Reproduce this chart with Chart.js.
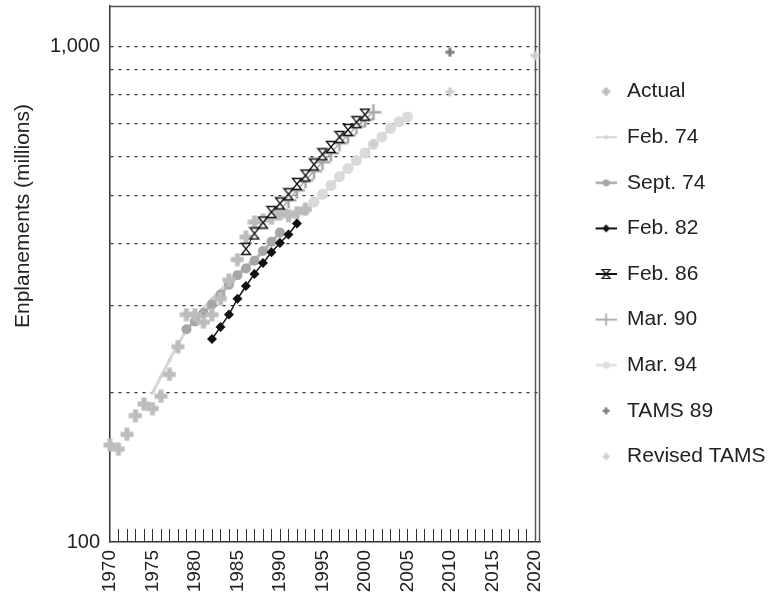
<!DOCTYPE html>
<html>
<head>
<meta charset="utf-8">
<style>
  html, body { margin: 0; padding: 0; background: #fff; }
  #chartDiv { width: 775px; height: 601px; }
</style>
</head>
<body>
<div id="chartDiv"><canvas id="myChart"></canvas></div>
<script src="https://cdn.jsdelivr.net/npm/chart.js@4.4.1/dist/chart.umd.min.js"></script>
<script>
// Enplanements (millions)
const actualYears = [1970, 1971, 1972, 1973, 1974, 1975, 1976, 1977, 1978, 1979, 1980, 1981,
  1982, 1983, 1984, 1985, 1986, 1987, 1988, 1989, 1990, 1991, 1992, 1993];
const actualValues = [157, 154, 165, 180, 190, 186, 197, 218, 248, 288, 288, 278,
  288, 310, 338, 372, 413, 443, 447, 451, 460, 456, 463, 470];

const feb74Years = [1975, 1976, 1977, 1978, 1979, 1980, 1981, 1982, 1983, 1984, 1985, 1986, 1987, 1988, 1989, 1990];
const feb74Values = [200, 216, 233, 251, 268, 283, 297, 310, 323, 336, 349, 361, 373, 385, 397, 410];

const sept74Years = [1979, 1980, 1981, 1982, 1983, 1984, 1985, 1986, 1987, 1988, 1989, 1990];
const sept74Values = [269, 279, 290, 302, 316, 331, 346, 357, 370, 387, 404, 422];

const feb82Years = [1982, 1983, 1984, 1985, 1986, 1987, 1988, 1989, 1990, 1991, 1992];
const feb82Values = [257, 272, 288, 310, 329, 348, 366, 385, 402, 418, 440];

const feb86Years = [1986, 1987, 1988, 1989, 1990, 1991, 1992, 1993, 1994, 1995, 1996, 1997, 1998, 1999, 2000];
const feb86Values = [391, 420, 442, 464, 483, 504, 529, 550, 579, 607, 628, 658, 680, 705, 730];

const mar90Years = [1990, 1991, 1992, 1993, 1994, 1995, 1996, 1997, 1998, 1999, 2000, 2001];
const mar90Values = [468, 490, 513, 538, 561, 585, 610, 639, 663, 691, 714, 738];

const mar94Years = [1993, 1994, 1995, 1996, 1997, 1998, 1999, 2000, 2001, 2002, 2003, 2004, 2005];
const mar94Values = [469, 486, 504, 525, 547, 568, 590, 611, 636, 658, 685, 706, 722];

const tams89Years = [2010];
const tams89Values = [976];

const revTamsYears = [2001, 2010, 2020];
const revTamsValues = [638, 812, 961];

// axis ticks
const xTickValues = [1970, 1975, 1980, 1985, 1990, 1995, 2000, 2005, 2010, 2015, 2020];
const yTickValues = [100, 200, 300, 400, 500, 600, 700, 800, 900, 1000];
const yTickText = ['100', '', '', '', '', '', '', '', '', '1,000'];

const FONT = "'Liberation Sans', Arial, Helvetica, sans-serif";
Chart.defaults.font.family = FONT;
Chart.defaults.color = '#222';

function pts(xs, ys) {
  return xs.map((x, i) => ({ x: x, y: ys[i] }));
}

function makeIcon(w, h, draw) {
  const c = document.createElement('canvas');
  c.width = w;
  c.height = h;
  draw(c.getContext('2d'));
  return c;
}

function hourglass(ctx, cx, cy, hw, hh, lw) {
  ctx.beginPath();
  ctx.moveTo(cx - hw, cy - hh);
  ctx.lineTo(cx + hw, cy - hh);
  ctx.lineTo(cx - hw, cy + hh);
  ctx.lineTo(cx + hw, cy + hh);
  ctx.closePath();
  ctx.fillStyle = '#fff';
  ctx.fill();
  ctx.lineWidth = lw;
  ctx.strokeStyle = '#111';
  ctx.stroke();
}

function plus(ctx, cx, cy, arm, lw, color) {
  ctx.beginPath();
  ctx.moveTo(cx - arm, cy); ctx.lineTo(cx + arm, cy);
  ctx.moveTo(cx, cy - arm); ctx.lineTo(cx, cy + arm);
  ctx.lineWidth = lw;
  ctx.strokeStyle = color;
  ctx.stroke();
}

function dot(ctx, cx, cy, r, color) {
  ctx.beginPath();
  ctx.arc(cx, cy, r, 0, Math.PI * 2);
  ctx.fillStyle = color;
  ctx.fill();
}

function seg(ctx, lw, color) {
  ctx.beginPath();
  ctx.moveTo(31, 8); ctx.lineTo(52, 8);
  ctx.lineWidth = lw;
  ctx.strokeStyle = color;
  ctx.stroke();
}

// point markers drawn as small images (keeps the layout overflow small)
const hourglassPoint = makeIcon(12, 14, ctx => hourglass(ctx, 6, 7, 4.5, 5.5, 1.3));
const actualPoint = makeIcon(14, 14, ctx => plus(ctx, 7, 7, 6.5, 5, '#bcbcbc'));
const mar90Point = makeIcon(18, 18, ctx => plus(ctx, 9, 9, 8, 2.5, '#a8a8a8'));
const tams89Point = makeIcon(10, 10, ctx => plus(ctx, 5, 5, 4.5, 3, '#7d7d7d'));
const revTamsPoint = makeIcon(10, 10, ctx => plus(ctx, 5, 5, 4.5, 3, '#cdcdcd'));

// legend icons (marker sits in the right part of a wide image)
const legendIcons = [
  makeIcon(52, 16, ctx => plus(ctx, 41.5, 8, 4, 3.5, '#bcbcbc')),
  makeIcon(52, 16, ctx => { seg(ctx, 2, '#d6d6d6'); dot(ctx, 41.5, 8, 2, '#cfcfcf'); }),
  makeIcon(52, 16, ctx => { seg(ctx, 2.5, '#ababab'); dot(ctx, 41.5, 8, 3.5, '#a6a6a6'); }),
  makeIcon(52, 16, ctx => {
    seg(ctx, 2, '#111');
    ctx.beginPath();
    ctx.moveTo(41.5, 4); ctx.lineTo(45.5, 8); ctx.lineTo(41.5, 12); ctx.lineTo(37.5, 8);
    ctx.closePath(); ctx.fillStyle = '#111'; ctx.fill();
  }),
  makeIcon(52, 16, ctx => { seg(ctx, 2, '#111'); hourglass(ctx, 41.5, 8, 4, 4.5, 1.2); }),
  makeIcon(52, 16, ctx => { seg(ctx, 2, '#b0b0b0'); plus(ctx, 41.5, 8, 6, 2, '#b0b0b0'); }),
  makeIcon(52, 16, ctx => { seg(ctx, 2.5, '#e0e0e0'); dot(ctx, 41.5, 8, 3.5, '#dedede'); }),
  makeIcon(52, 16, ctx => plus(ctx, 41.5, 8, 3.5, 2.5, '#7d7d7d')),
  makeIcon(52, 16, ctx => plus(ctx, 41.5, 8, 3.5, 2.5, '#cdcdcd'))
];

const frameAndTicks = {
  id: 'frameAndTicks',
  beforeDatasetsDraw(chart) {
    const { ctx, chartArea: a, scales: { x } } = chart;
    ctx.save();
    ctx.beginPath();
    for (let yr = 1971; yr < 2020; yr++) {
      const px = Math.round(x.getPixelForValue(yr)) + 0.5;
      ctx.moveTo(px, a.bottom);
      ctx.lineTo(px, a.bottom - 13);
    }
    ctx.lineWidth = 1;
    ctx.strokeStyle = '#333';
    ctx.stroke();

    ctx.beginPath();
    const p2020 = Math.round(x.getPixelForValue(2020)) + 0.5;
    ctx.moveTo(p2020, a.top);
    ctx.lineTo(p2020, a.bottom);
    ctx.moveTo(a.left, a.top + 0.5);
    ctx.lineTo(a.right, a.top + 0.5);
    ctx.moveTo(a.right - 0.5, a.top);
    ctx.lineTo(a.right - 0.5, a.bottom);
    ctx.lineWidth = 1.5;
    ctx.strokeStyle = '#555';
    ctx.stroke();
    ctx.restore();
  },
  afterDraw(chart) {
    const ctx = chart.ctx;
    ctx.save();
    ctx.translate(23, 216);
    ctx.rotate(-Math.PI / 2);
    ctx.font = '21px ' + FONT;
    ctx.fillStyle = '#222';
    ctx.textAlign = 'center';
    ctx.textBaseline = 'middle';
    ctx.fillText('Enplanements (millions)', 0, 0);
    ctx.restore();
  }
};

const ctx = document.getElementById('myChart');

new Chart(ctx, {
  type: 'line',
  data: {
    datasets: [
      {
        label: 'Actual', data: pts(actualYears, actualValues), showLine: false, order: 3, clip: false,
        pointStyle: actualPoint, pointRadius: 1, pointBorderWidth: 0,
        borderColor: '#bcbcbc', backgroundColor: '#bcbcbc'
      },
      {
        label: 'Feb. 74', data: pts(feb74Years, feb74Values), order: 6,
        borderColor: '#d6d6d6', backgroundColor: '#d0d0d0', borderWidth: 3,
        pointRadius: 1.8, pointBorderWidth: 0
      },
      {
        label: 'Sept. 74', data: pts(sept74Years, sept74Values), order: 5,
        borderColor: '#b4b4b4', backgroundColor: '#a6a6a6', borderWidth: 3,
        pointRadius: 5, pointBorderWidth: 0
      },
      {
        label: 'Feb. 82', data: pts(feb82Years, feb82Values), order: 2,
        borderColor: '#111', backgroundColor: '#111', borderWidth: 1.5,
        pointStyle: 'rectRot', pointRadius: 5, pointBorderWidth: 0
      },
      {
        label: 'Feb. 86', data: pts(feb86Years, feb86Values), order: 1,
        borderColor: '#111', backgroundColor: '#fff', borderWidth: 1,
        pointStyle: hourglassPoint, pointRadius: 1, pointBorderWidth: 0
      },
      {
        label: 'Mar. 90', data: pts(mar90Years, mar90Values), order: 4,
        borderColor: '#a8a8a8', backgroundColor: '#a8a8a8', borderWidth: 1.5,
        pointStyle: mar90Point, pointRadius: 1, pointBorderWidth: 0
      },
      {
        label: 'Mar. 94', data: pts(mar94Years, mar94Values), order: 7,
        borderColor: '#dcdcdc', backgroundColor: '#dadada', borderWidth: 3,
        pointRadius: 5.5, pointBorderWidth: 0
      },
      {
        label: 'TAMS 89', data: pts(tams89Years, tams89Values), showLine: false, order: 0,
        pointStyle: tams89Point, pointRadius: 1, pointBorderWidth: 0,
        borderColor: '#7d7d7d', backgroundColor: '#7d7d7d'
      },
      {
        label: 'Revised TAMS', data: pts(revTamsYears, revTamsValues), showLine: false, order: 0, clip: false,
        pointStyle: revTamsPoint, pointRadius: 1, pointBorderWidth: 0,
        borderColor: '#cdcdcd', backgroundColor: '#cdcdcd'
      }
    ]
  },
  options: {
    responsive: true,
    maintainAspectRatio: false,
    animation: false,
    layout: { padding: { top: 6, bottom: 6, left: 0, right: 0 } },
    plugins: {
      tooltip: { enabled: false },
      legend: {
        position: 'right',
        align: 'center',
        fullSize: false,
        maxWidth: 235,
        labels: {
          usePointStyle: true,
          pointStyleWidth: 52,
          padding: 24.6,
          color: '#222',
          font: { size: 21, family: FONT },
          sort: (a, b) => a.datasetIndex - b.datasetIndex,
          generateLabels: chart => Chart.defaults.plugins.legend.labels.generateLabels(chart)
            .map(item => Object.assign(item, { pointStyle: legendIcons[item.datasetIndex], fontColor: '#222' }))
        }
      }
    },
    scales: {
      x: {
        type: 'linear',
        min: 1970,
        max: 2020.6,
        afterBuildTicks: axis => { axis.ticks = xTickValues.map(v => ({ value: v })); },
        afterFit: axis => { axis.height = 53; axis.paddingLeft = 0; axis.paddingRight = 0; },
        grid: { display: false, drawTicks: false },
        border: { display: true, color: '#333', width: 1.5 },
        ticks: {
          autoSkip: false,
          minRotation: 90,
          maxRotation: 90,
          padding: 8,
          color: '#222',
          font: { size: 19 },
          callback: v => String(v)
        }
      },
      y: {
        type: 'logarithmic',
        min: 100,
        max: 1210,
        afterBuildTicks: axis => { axis.ticks = yTickValues.map(v => ({ value: v })); },
        afterFit: axis => { axis.width = 110; axis.paddingTop = 0; axis.paddingBottom = 0; },
        grid: {
          drawTicks: false,
          lineWidth: 1.3,
          color: c => (c.tick && c.tick.value === 100) ? 'rgba(0,0,0,0)' : '#333'
        },
        border: { display: true, color: '#333', width: 1.5, dash: [3, 5] },
        ticks: {
          padding: 10,
          color: '#222',
          font: { size: 20 },
          callback: (v, i) => yTickText[i]
        }
      }
    }
  },
  plugins: [frameAndTicks]
});
</script>
</body>
</html>
